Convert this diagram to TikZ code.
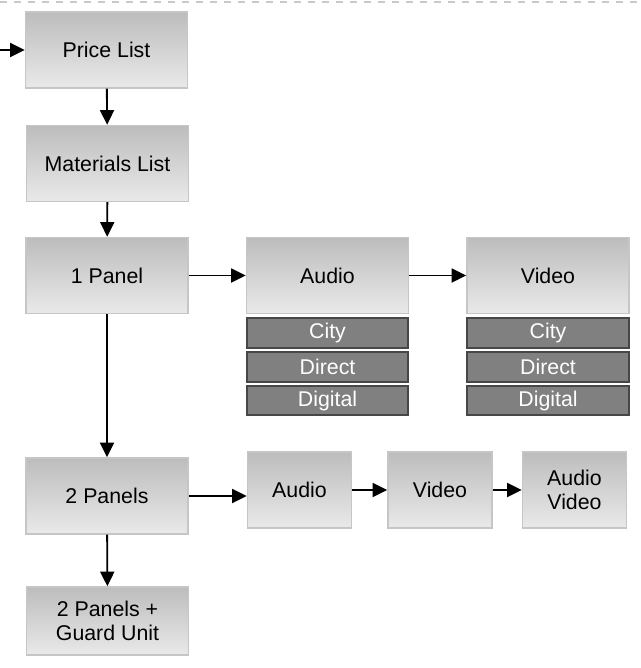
\documentclass[tikz,border=0pt]{standalone}
\usepackage{fontspec}
\setmainfont{Liberation Sans}
\usepackage{tikz}
\usetikzlibrary{arrows.meta}

\begin{document}
\begin{tikzpicture}[x=0.75pt, y=-0.75pt,
    stage/.style={rectangle, draw=gray!45, line width=1.1pt, top color=gray!52, bottom color=gray!17,
        inner sep=0pt, align=center, font=\fontsize{16}{18.5}\selectfont},
    wide/.style={stage, minimum width=121.5pt, minimum height=57pt},
    narrow/.style={stage, minimum width=78pt, minimum height=57pt},
    opt/.style={rectangle, draw=black!72, line width=1.4pt, fill=gray, text=white,
        inner sep=0pt, minimum width=121pt, minimum height=22pt, font=\fontsize{16}{18}\selectfont},
    flow/.style={-{Triangle[length=11pt, width=10.5pt]}, line width=1.4pt}]
        \useasboundingbox (0,0) rectangle (641,668);
        \draw[gray!42, line width=1.6pt, dash pattern=on 5.5pt off 5pt] (0,2) -- (641,2);

        % Nodes
        \coordinate (start) at (0,50);
        \node[wide] (price) at (106.5,50) {Price List};
        \node[wide] (matlist) at (107.5,163.5) {Materials List};
        \node[wide] (panel1) at (107,275.5) {1 Panel};
        \node[wide] (audio1) at (327.5,275.5) {Audio};
        \node[wide] (video1) at (548,275.5) {Video};
        \node[opt] (city1) at (327.5,333) {City};
        \node[opt] (direct1) at (327.5,367) {Direct};
        \node[opt] (digital1) at (327.5,400.5) {Digital};
        \node[opt] (city2) at (548,333) {City};
        \node[opt] (direct2) at (548,367) {Direct};
        \node[opt] (digital2) at (548,400.5) {Digital};
        \node[wide] (panel2) at (107,496) {2 Panels};
        \node[narrow] (audio2) at (299.5,490) {Audio};
        \node[narrow] (video2) at (440,490) {Video};
        \node[narrow] (avboth) at (574.5,490) {Audio\\Video};
        \node[wide, minimum height=51pt] (guard) at (107.5,621) {2 Panels +\\Guard Unit};

        % Edges
        \draw[flow] (start) -- (price);
        \draw[flow] (price) -- (matlist);
        \draw[flow] (matlist) -- (panel1);
        \draw[flow] (panel1) -- (panel2);
        \draw[flow] (panel2) -- (guard);
        \draw[flow] (panel1) -- (audio1);
        \draw[flow] (audio1) -- (video1);
        \draw[flow] (panel2.east) -- (panel2.east -| audio2.west);
        \draw[flow] (audio2) -- (video2);
        \draw[flow] (video2) -- (avboth);
    \end{tikzpicture}
\end{document}
